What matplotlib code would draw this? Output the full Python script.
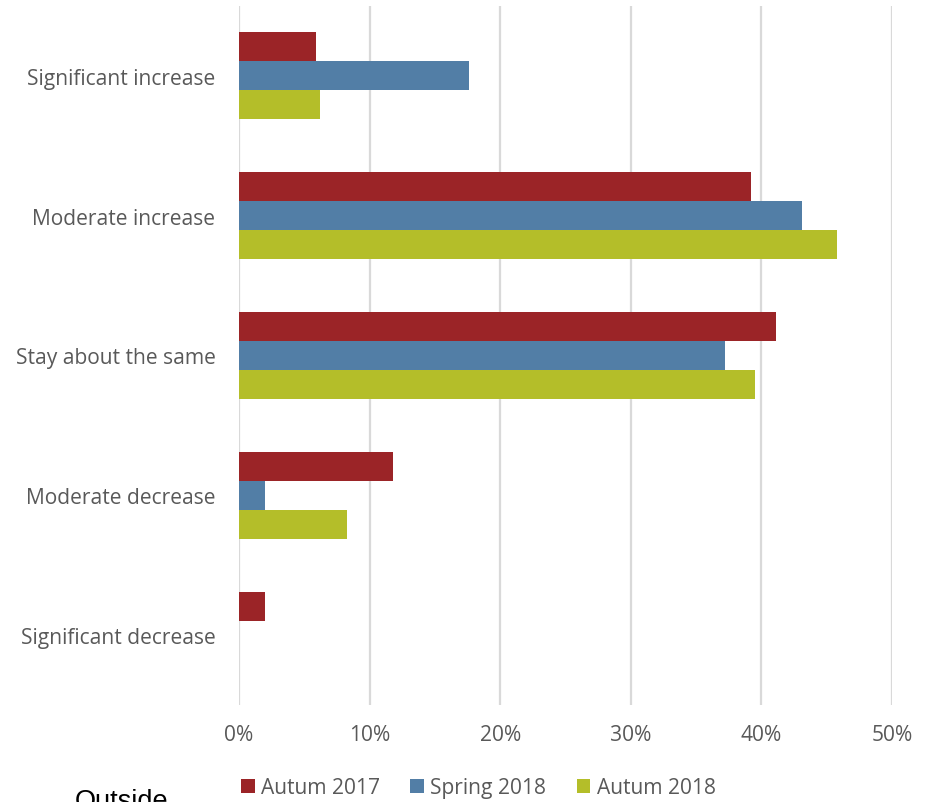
import matplotlib
matplotlib.use("Agg")
import matplotlib.pyplot as plt
import numpy as np

categories = ["Significant increase", "Moderate increase", "Stay about the same",
              "Moderate decrease", "Significant decrease"]
series_names = ["Autum 2017", "Spring 2018", "Autum 2018"]
autum_2017 = [5.9, 39.2, 41.1, 11.8, 2.0]
spring_2018 = [17.6, 43.1, 37.2, 2.0, 0.0]
autum_2018 = [6.2, 45.8, 39.5, 8.3, 0.0]
colors = ["#9B2427", "#527EA6", "#B4BE29"]
xticks = [0, 10, 20, 30, 40, 50]
xtick_labels = ["0%", "10%", "20%", "30%", "40%", "50%"]

W, H = 930, 803
fig = plt.figure(figsize=(W / 100, H / 100), dpi=100)
ax = fig.add_axes([239 / W, 1 - 706 / H, (892 - 239) / W, (706 - 7) / H])

font = "Open Sans"
gray = "#595959"
fs = 15.1

y = np.arange(len(categories))
bar_h = 0.207
for i, (vals, name, c) in enumerate(zip([autum_2017, spring_2018, autum_2018], series_names, colors)):
    ax.barh(y + (i - 1) * bar_h, vals, height=bar_h, color=c, label=name,
            linewidth=0, zorder=3)

ax.set_ylim(len(categories) - 0.5, -0.5)
ax.set_xlim(0, 50)
ax.set_xticks(xticks)
ax.set_xticklabels(xtick_labels, fontfamily=font, fontsize=fs, color=gray)
ax.set_yticks(y)
ax.set_yticklabels(categories, fontfamily=font, fontsize=fs, color=gray)
ax.tick_params(length=0, pad=14, axis="x")
ax.tick_params(length=0, pad=17, axis="y")
ax.grid(axis="x", color="#D9D9D9", linewidth=1.6, zorder=0)
for s in ax.spines.values():
    s.set_visible(False)

leg = fig.legend(loc="center left", bbox_to_anchor=(241 / W, 1 - 789 / H), ncol=3,
                 frameon=False, prop={"family": font, "size": fs},
                 handlelength=0.65, handleheight=0.65, handletextpad=0.3,
                 columnspacing=1.45, borderaxespad=0, borderpad=0)
for t in leg.get_texts():
    t.set_color(gray)

fig.text(75 / W, 1 - 789 / H, "Outside", fontfamily="Liberation Sans", fontsize=19.5,
         color="black", va="top", ha="left")

fig.savefig("out.png", dpi=100, facecolor="white")
